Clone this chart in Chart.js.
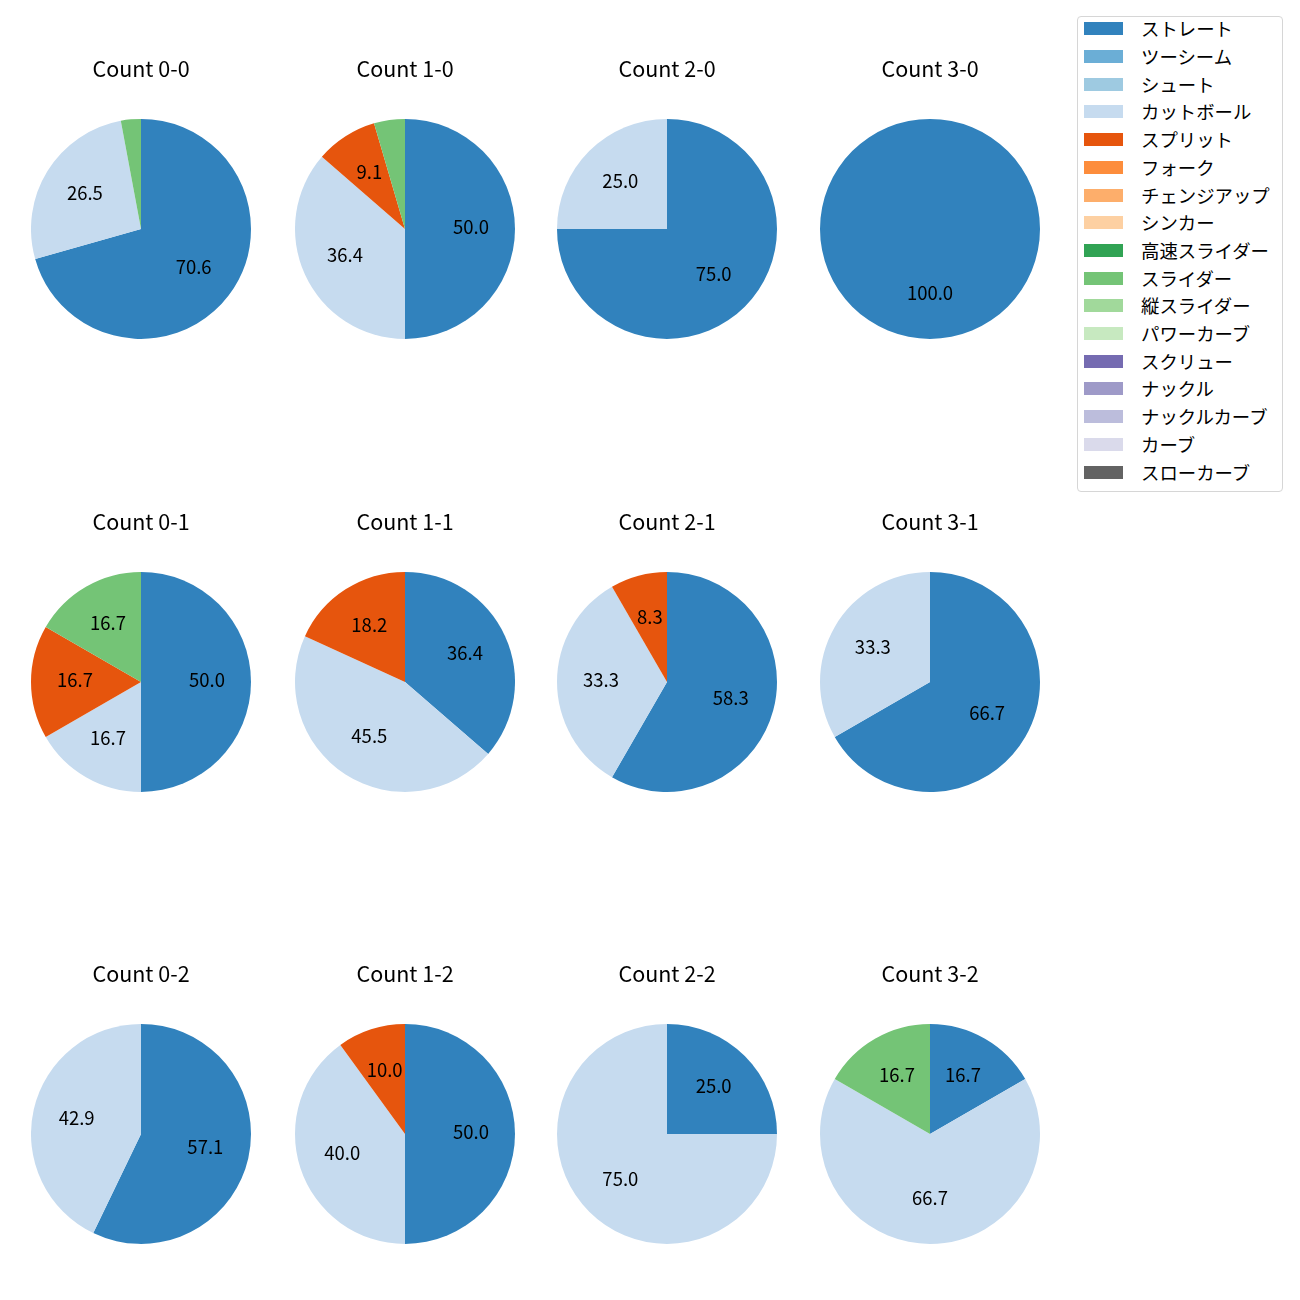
<!DOCTYPE html>
<html>
<head>
<meta charset="utf-8">
<script src="https://cdn.jsdelivr.net/npm/chart.js@4"></script>
<style>
  body { margin: 0; background: #fff; }
  #page { position: relative; width: 1300px; height: 1300px; font-family: "Noto Sans CJK JP", sans-serif; }
  .pie { position: absolute; width: 220px; height: 286px; }
  #legend { position: absolute; left: 1077px; top: 16px; width: 204px; height: 474px;
            border: 1px solid #d6d6d6; border-radius: 4px; background: #fff; }
  .item { position: absolute; left: 6px; height: 20px; }
  .item span.sw { position: absolute; left: 0; top: 3px; width: 39px; height: 13px; }
  .item span.tx { position: absolute; left: 57px; top: -4px; font-size: 18.4px; white-space: nowrap; color: #000; }
</style>
</head>
<body>
<div id="page"><div id="legend"></div></div>
<script>
var countLabels = ['0-0', '1-0', '2-0', '3-0', '0-1', '1-1', '2-1', '3-1', '0-2', '1-2', '2-2', '3-2']
var pitchTypes = ['ストレート', 'ツーシーム', 'シュート', 'カットボール', 'スプリット', 'フォーク',
  'チェンジアップ', 'シンカー', '高速スライダー', 'スライダー', '縦スライダー', 'パワーカーブ',
  'スクリュー', 'ナックル', 'ナックルカーブ', 'カーブ', 'スローカーブ']
var pitchColors = ['#3182bd', '#6baed6', '#9ecae1', '#c6dbef', '#e6550d', '#fd8d3c',
  '#fdae6b', '#fdd0a2', '#31a354', '#74c476', '#a1d99b', '#c7e9c0',
  '#756bb1', '#9e9ac8', '#bcbddc', '#dadaeb', '#636363']

// pitches per count, in countLabels order
var straight = [24, 11, 3, 1, 3, 4, 7, 2, 4, 5, 1, 1]
var cutter   = [9, 8, 1, 0, 1, 5, 4, 1, 3, 4, 3, 4]
var splitter = [0, 2, 0, 0, 1, 2, 1, 0, 0, 1, 0, 0]
var slider   = [1, 1, 0, 0, 1, 0, 0, 0, 0, 0, 0, 1]

var seriesByType = {
  'ストレート': straight,
  'カットボール': cutter,
  'スプリット': splitter,
  'スライダー': slider
}

var colX = [141, 405, 667, 930]
var rowPieTop = [119, 572, 1024]

var pctLabels = {
  id: 'pctLabels',
  afterDatasetsDraw: function(chart) {
    var ctx = chart.ctx
    var data = chart.data.datasets[0].data
    var total = data.reduce(function(a, b) { return a + b }, 0)
    ctx.save()
    ctx.font = '18.5px "Noto Sans CJK JP", sans-serif'
    ctx.fillStyle = '#000'
    ctx.textAlign = 'center'
    ctx.textBaseline = 'middle'
    chart.getDatasetMeta(0).data.forEach(function(arc, i) {
      var pct = data[i] / total * 100
      if (!data[i] || pct < 5) return
      var mid = (arc.startAngle + arc.endAngle) / 2
      var r = arc.outerRadius * 0.6
      // small nudge up: CJK font sits a bit low with 'middle'
      ctx.fillText(pct.toFixed(1), arc.x + Math.cos(mid) * r, arc.y + Math.sin(mid) * r - 1.5)
    })
    ctx.restore()
  }
}

var page = document.getElementById('page')

countLabels.forEach(function(count, k) {
  var col = k % 4, row = Math.floor(k / 4)
  var holder = document.createElement('div')
  holder.className = 'pie'
  holder.style.left = (colX[col] - 110) + 'px'
  holder.style.top = (rowPieTop[row] - 66) + 'px'
  var canvas = document.createElement('canvas')
  holder.appendChild(canvas)
  page.appendChild(holder)

  var values = pitchTypes.map(function(t) {
    return seriesByType[t] ? seriesByType[t][k] : 0
  })

  new Chart(canvas, {
    type: 'pie',
    data: {
      labels: pitchTypes,
      datasets: [{
        data: values,
        backgroundColor: pitchColors,
        borderWidth: 0,
        hoverOffset: 0,
        offset: 0
      }]
    },
    options: {
      responsive: true,
      maintainAspectRatio: false,
      animation: false,
      events: [],
      layout: { padding: 0 },
      plugins: {
        legend: { display: false },
        tooltip: { enabled: false },
        title: {
          display: true,
          text: 'Count ' + count,
          color: '#000',
          font: { family: '"Noto Sans CJK JP", sans-serif', size: 21.5, weight: 'normal', lineHeight: 1.2 },
          padding: { top: 3, bottom: 37 }
        }
      }
    },
    plugins: [pctLabels]
  })
})

var legend = document.getElementById('legend')
pitchTypes.forEach(function(name, i) {
  var item = document.createElement('div')
  item.className = 'item'
  item.style.top = (2.3 + i * 27.7) + 'px'
  item.innerHTML = '<span class="sw" style="background:' + pitchColors[i] + '"></span><span class="tx">' + name + '</span>'
  legend.appendChild(item)
})
</script>
</body>
</html>
